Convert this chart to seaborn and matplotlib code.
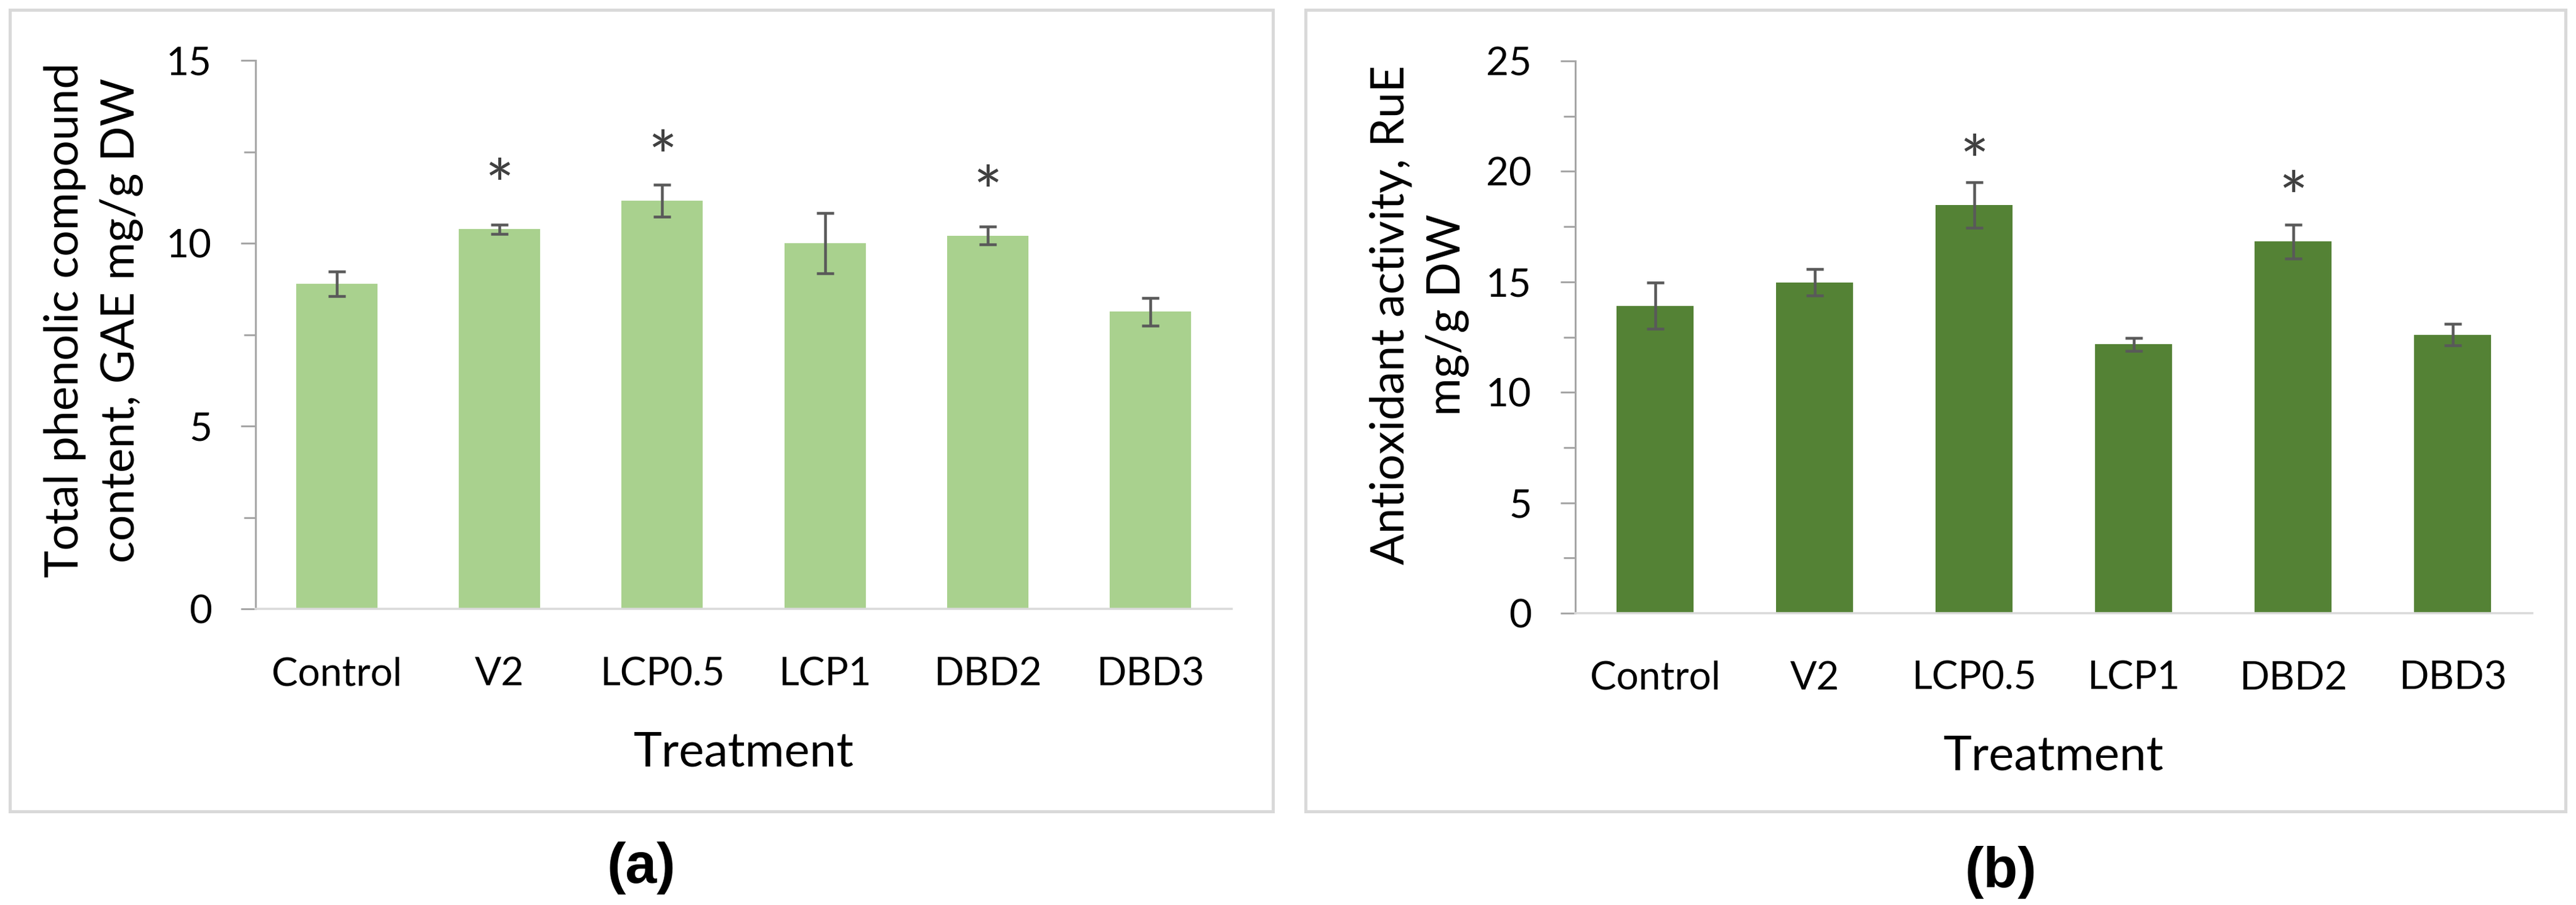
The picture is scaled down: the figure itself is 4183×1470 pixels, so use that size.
import numpy as np
import pandas as pd
import matplotlib
matplotlib.use("Agg")
import matplotlib.pyplot as plt
import seaborn as sns
from matplotlib.patches import Rectangle
from matplotlib.ticker import MultipleLocator

# ---------------- data ----------------
treatments = ["Control", "V2", "LCP0.5", "LCP1", "DBD2", "DBD3"]
phenolic_mean = [8.89, 10.38, 11.16, 10.00, 10.21, 8.13]
phenolic_err = [0.33, 0.12, 0.44, 0.82, 0.25, 0.38]
phenolic_sig = [False, True, True, False, True, False]
antiox_mean = [13.92, 14.97, 18.49, 12.17, 16.83, 12.61]
antiox_err = [1.05, 0.60, 1.03, 0.30, 0.77, 0.50]
antiox_sig = [False, False, True, False, True, False]

ylabel_a = "Total phenolic compound\ncontent, GAE mg/g DW"
ylabel_b = "Antioxidant activity, RuE\nmg/g DW"
xlabel = "Treatment"

# ---------------- style ----------------
sns.set_theme(style="white")
plt.rcParams["font.family"] = ["Lato", "DejaVu Sans"]

W, H = 4183, 1470
DPI = 100
PT = 72.0 / DPI  # points per pixel

fig = plt.figure(figsize=(W / DPI, H / DPI), dpi=DPI)
fig.patch.set_facecolor("white")


def frame(x0, y0, x1, y1):
    r = Rectangle((x0 / W, 1 - y1 / H), (x1 - x0) / W, (y1 - y0) / H,
                  transform=fig.transFigure, fill=False,
                  edgecolor="#D9D9D9", linewidth=5 * PT, zorder=0)
    fig.add_artist(r)


def panel(px_rect, means, errs, sig, color, ylabel, ymax, step, bar_w,
          ylab_xy, xlab_y, letter, letter_xy):
    x0, y0, x1, y1 = px_rect
    ax = fig.add_axes([x0 / W, 1 - y1 / H, (x1 - x0) / W, (y1 - y0) / H])
    df = pd.DataFrame({"Treatment": treatments, "value": means})
    sns.barplot(data=df, x="Treatment", y="value", color=color, saturation=1,
                width=bar_w, errorbar=None, linewidth=0, ax=ax)
    xs = np.arange(len(treatments))
    ax.errorbar(xs, means, yerr=errs, fmt="none", ecolor="#595959",
                elinewidth=4.5 * PT, capsize=14 * PT, capthick=4.5 * PT, zorder=5)
    for i, (m, s) in enumerate(zip(means, sig)):
        if s:
            ax.annotate("*", xy=(i, m), xytext=(0, 32 * PT), textcoords="offset points",
                        ha="center", va="baseline", fontsize=80, color="#404040")
    ax.set_xlim(-0.5, len(treatments) - 0.5)
    ax.set_ylim(0, ymax)
    ax.yaxis.set_major_locator(MultipleLocator(step))
    ax.yaxis.set_minor_locator(MultipleLocator(step / 2))
    for sp in ["top", "right"]:
        ax.spines[sp].set_visible(False)
    ax.spines["left"].set_color("#A6A6A6")
    ax.spines["left"].set_linewidth(3 * PT)
    ax.spines["bottom"].set_color("#D9D9D9")
    ax.spines["bottom"].set_linewidth(3.5 * PT)
    ax.tick_params(axis="y", which="major", direction="out", length=24 * PT,
                   width=3 * PT, color="#A6A6A6", pad=47 * PT, labelsize=46,
                   labelcolor="#000000", left=True)
    ax.tick_params(axis="y", which="minor", direction="out", length=19 * PT,
                   width=3 * PT, color="#A6A6A6", left=True)
    ax.tick_params(axis="x", length=0, pad=77 * PT, labelsize=46, labelcolor="#000000")
    ax.set_xlabel(xlabel, fontsize=56, color="#000000")
    ax.set_ylabel(ylabel, fontsize=54, color="#000000", linespacing=1.38)
    ax.yaxis.set_label_coords(*ylab_xy)
    ax.xaxis.set_label_coords(0.5, xlab_y)
    ax.set_facecolor("none")
    fig.text(letter_xy[0] / W, 1 - letter_xy[1] / H, letter, ha="center", va="center",
             fontsize=66, fontweight="bold", family=["Liberation Sans", "DejaVu Sans"],
             color="#000000")
    return ax


frame(16, 16, 2067, 1318)
frame(2120, 16, 4166, 1318)

panel((415, 98, 2000, 989), phenolic_mean, phenolic_err, phenolic_sig, "#A9D18E",
      ylabel_a, 15, 5, 0.5, (-0.115, 0.526), -0.2233, "(a)", (1041, 1410))
panel((2558, 99, 4112, 996), antiox_mean, antiox_err, antiox_sig, "#548235",
      ylabel_b, 25, 5, 0.48, (-0.111, 0.54), -0.2207, "(b)", (3249, 1417))

fig.savefig("out.png", dpi=DPI, facecolor="white")
